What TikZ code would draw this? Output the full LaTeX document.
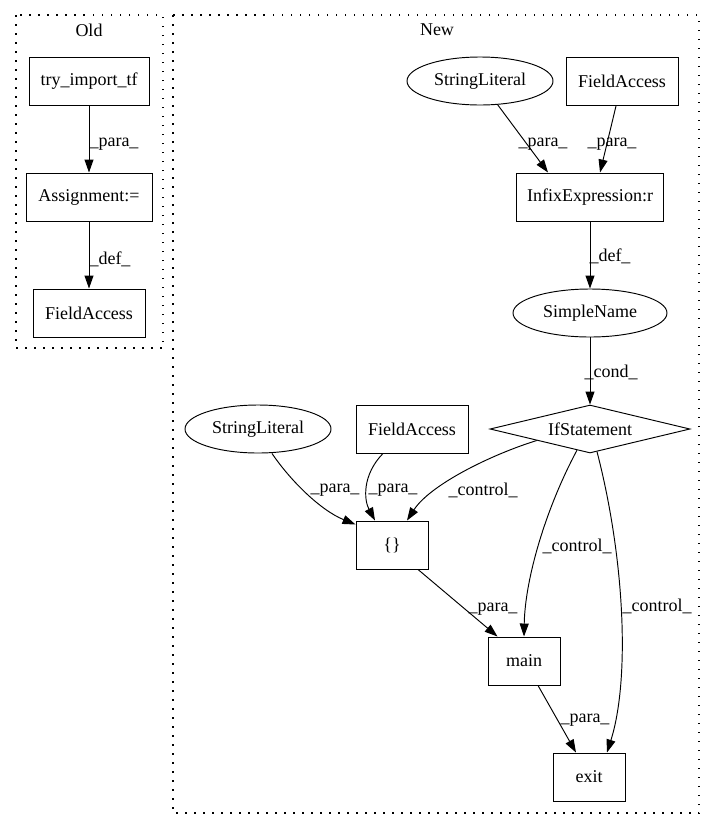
\documentclass[tikz,border=0pt]{standalone}
\usepackage{fontspec}
\setmainfont{Liberation Serif}
\usetikzlibrary{shapes.geometric,arrows.meta,calc}
\begin{document}
\begin{tikzpicture}[x=1pt,y=-1pt,
  every node/.style={font=\fontsize{18}{20}\selectfont},
  boxnode/.style={draw,rectangle,minimum height=48pt,inner sep=0pt,line width=0.95pt},
  ellnode/.style={draw,ellipse,minimum width=146pt,minimum height=48pt,inner sep=0pt,line width=0.95pt},
  dianode/.style={draw,diamond,aspect=4,minimum width=200pt,minimum height=48pt,inner sep=0pt,line width=0.95pt},
  edge/.style={line width=0.95pt,-{Triangle[length=13pt,width=9pt]}},
  lbl/.style={inner sep=0pt},
  cluster/.style={line width=1.3pt,dash pattern=on 1.5pt off 7.5pt}]
\useasboundingbox (0,0) rectangle (715,828);
% clusters
\draw[cluster] (16,15) rectangle (163,348);
\draw[cluster] (173,15) rectangle (699,813);
\node[lbl] (oldlbl) at (89,30) {Old};
\node[lbl] (newlbl) at (437,30) {New};
% Old nodes
\node[boxnode,minimum width=120pt] (try) at (89,81) {try\_import\_tf};
\node[boxnode,minimum width=126pt] (assign) at (89,197) {Assignment:=};
\node[boxnode,minimum width=112pt] (faold) at (89,313) {FieldAccess};
% New nodes
\node[ellnode] (sl1) at (480,81) {StringLiteral};
\node[boxnode,minimum width=112pt] (fa1) at (622,81) {FieldAccess};
\node[boxnode,minimum width=147pt] (infix) at (590,197) {InfixExpression:r};
\node[ellnode,minimum width=154pt] (sn) at (590,313) {SimpleName};
\node[dianode] (ifs) at (590,429) {IfStatement};
\node[ellnode] (sl2) at (258,429) {StringLiteral};
\node[boxnode,minimum width=112pt] (fa2) at (412,429) {FieldAccess};
\node[boxnode,minimum width=72pt] (brace) at (392,545) {\{\}};
\node[boxnode,minimum width=72pt] (main) at (524,661) {main};
\node[boxnode,minimum width=72pt] (exit) at (589,777) {exit};
% Old edges
\draw[edge] (try.south) -- (assign.north);
\node[lbl] (l1) at (114,144) {\_para\_};
\draw[edge] (assign.south) -- (faold.north);
\node[lbl] (l2) at (110,259) {\_def\_};
% New edges
\coordinate (infA) at ($(infix.north west)+(32,0)$);
\coordinate (infB) at ($(infix.north west)+(84,0)$);
\draw[edge] (sl1) -- (infA);
\node[lbl] (l3) at (543,144) {\_para\_};
\draw[edge] (fa1) -- (infB);
\node[lbl] (l4) at (612,144) {\_para\_};
\draw[edge] (infix.south) -- (sn.north);
\node[lbl] (l5) at (610,256) {\_def\_};
\draw[edge] (sn.south) -- (ifs.north);
\node[lbl] (l6) at (611,372) {\_cond\_};
% to {}
\coordinate (slS) at ($(sl2.south)+(14,0)$);
\coordinate (brA) at ($(brace.north west)+(0,4)$);
\draw[edge] (slS) .. controls (290,480) and (320,510) .. (brA);
\node[lbl] (l7) at (335,490) {\_para\_};
\coordinate (faS) at ($(fa2.south)+(-29,0)$);
\coordinate (brB) at ($(brace.north)+(-17,0)$);
\draw[edge] (faS) .. controls (362,475) and (364,500) .. (brB);
\node[lbl] (l8) at (393,490) {\_para\_};
\coordinate (ifA) at ($(ifs.west)!0.47!(ifs.south)$);
\coordinate (brC) at ($(brace.north)+(15,0)$);
\draw[edge] (ifA) .. controls (490,455) and (430,485) .. (brC);
\node[lbl] (l9) at (483,490) {\_control\_};
% to main / exit
\coordinate (ifB) at ($(ifs.south)!0.13!(ifs.west)$);
\draw[edge] (ifB) .. controls (545,510) and (525,580) .. (main.north);
\node[lbl] (l10) at (577,546) {\_control\_};
\coordinate (ifC) at ($(ifs.south)!0.07!(ifs.east)$);
\coordinate (exA) at ($(exit.north)+(18,0)$);
\draw[edge] (ifC) .. controls (625,560) and (630,680) .. (exA);
\node[lbl] (l11) at (657,606) {\_control\_};
\coordinate (brS) at ($(brace.south)+(26,0)$);
\coordinate (mnA) at ($(main.north west)+(10,0)$);
\draw[edge] (brS) -- (mnA);
\node[lbl] (l12) at (493,609) {\_para\_};
\coordinate (mnS) at ($(main.south)+(14,0)$);
\coordinate (exB) at ($(exit.north)+(-13,0)$);
\draw[edge] (mnS) -- (exB);
\node[lbl] (l13) at (585,720) {\_para\_};
\end{tikzpicture}
\end{document}
